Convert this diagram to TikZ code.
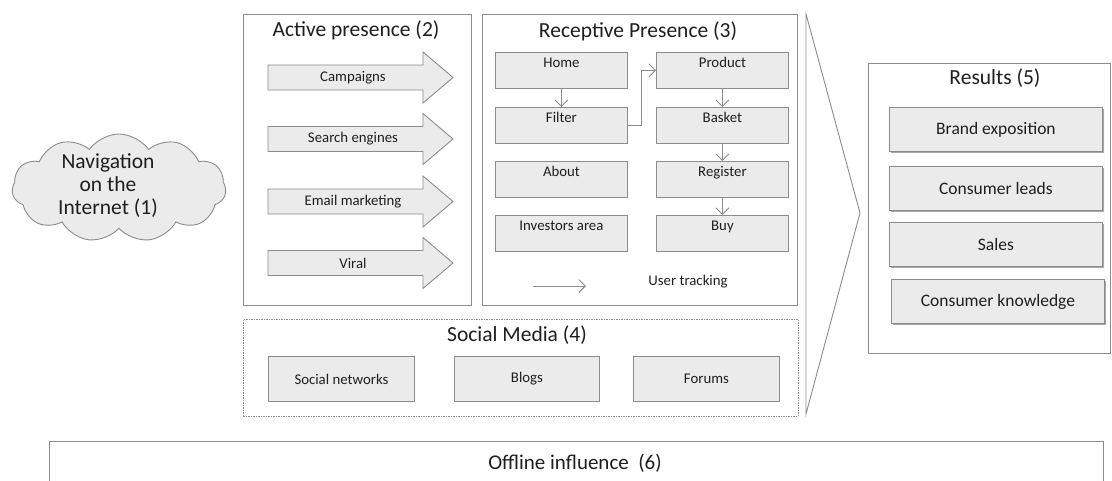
\documentclass[tikz,border=0pt]{standalone}
\usepackage{fontspec}
\setmainfont{Carlito}
\usetikzlibrary{shapes.symbols,arrows.meta,shadows}
\definecolor{boxfill}{HTML}{EBEBEB}
\definecolor{boxline}{HTML}{8C8C8C}
\definecolor{txt}{HTML}{1F1F1F}
\begin{document}
\begin{tikzpicture}[x=1pt,y=-1pt,
  every node/.style={text=txt},
  container/.style={draw=boxline, line width=0.9pt, inner sep=0pt, anchor=north west},
  dashbox/.style={draw=boxline, line width=0.8pt, dash pattern=on 1.5pt off 1pt, inner sep=0pt, anchor=north west},
  smalltext/.style={font=\fontsize{14.8}{17}\selectfont},
  titletext/.style={font=\fontsize{21.5}{25}\selectfont},
  pagebox/.style={draw=boxline, fill=boxfill, line width=0.9pt, anchor=north west,
    minimum width=132pt, minimum height=36pt, inner ysep=0pt, text height=15pt, text depth=21pt,
    font=\fontsize{14.8}{17}\selectfont},
  resbox/.style={draw=boxline, fill=boxfill, line width=0.9pt, anchor=north west,
    minimum width=213pt, minimum height=44pt, inner sep=0pt,
    font=\fontsize{17.5}{20}\selectfont,
    drop shadow={shadow xshift=1.5pt, shadow yshift=-1.5pt, fill=black!35, opacity=1}},
  socbox/.style={draw=boxline, fill=boxfill, line width=0.9pt, anchor=north west,
    minimum height=45pt, inner sep=0pt, font=\fontsize{14.8}{17}\selectfont},
  actarrow/.style={draw=boxline, fill=boxfill, line width=0.9pt},
  flow/.style={draw=boxline, line width=0.9pt, -{Straight Barb[length=6.5pt,width=13pt]}}
]
\useasboundingbox (0,0) rectangle (1112,480);
\fill[white] (0,0) rectangle (1112,480);

% Cloud
\node[cloud, cloud puffs=11, cloud puff arc=110, aspect=1.9, draw=boxline, fill=boxfill,
  line width=0.9pt, minimum width=214pt, minimum height=108pt, inner sep=0pt] (nav) at (119,188) {};
\node[align=center, font=\fontsize{21.5}{23}\selectfont] (navtext) at (108,186)
  {Navigation\\on the\\Internet (1)};

% Active presence
\node[container, minimum width=228pt, minimum height=291pt] (active) at (243,14) {};
\node[titletext] (activetitle) at (356,30) {Active presence (2)};
\foreach \y/\t/\n in {77.5/Campaigns/camp, 139/Search engines/search, 201.5/Email marketing/email, 263/Viral/viral}{
  \draw[actarrow] (268,\y-12.5) -- (423,\y-12.5) -- (423,\y-25.5) -- (453,\y)
     -- (423,\y+25.5) -- (423,\y+12.5) -- (268,\y+12.5) -- cycle;
  \node[smalltext] (\n) at (353,\y) {\t};
}

% Receptive presence
\node[container, minimum width=315pt, minimum height=291pt] (receptive) at (482,14) {};
\node[titletext] (receptivetitle) at (638,31) {Receptive Presence (3)};
\node[pagebox] (home) at (495,52) {Home};
\node[pagebox] (filter) at (495,107) {Filter};
\node[pagebox] (about) at (495,161) {About};
\node[pagebox] (investors) at (495,215) {Investors area};
\node[pagebox] (product) at (656,52) {Product};
\node[pagebox] (basket) at (656,107) {Basket};
\node[pagebox] (register) at (656,161) {Register};
\node[pagebox] (buy) at (656,215) {Buy};
\draw[flow] (home) -- (filter);
\draw[flow] (filter.east) -- ++(14,0) |- (product.west);
\draw[flow] (product) -- (basket);
\draw[flow] (basket) -- (register);
\draw[flow] (register) -- (buy);
\coordinate (ut1) at (533,286);
\coordinate (ut2) at (586,286);
\draw[flow] (ut1) -- (ut2);
\node[smalltext] (usertracking) at (688,282) {User tracking};

% Social media
\node[dashbox, minimum width=555pt, minimum height=97pt] (social) at (243,319) {};
\node[titletext] (socialtitle) at (517,335) {Social Media (4)};
\node[socbox, minimum width=146pt] (networks) at (268,356) {Social networks};
\node[socbox, minimum width=145pt] (blogs) at (454,356) {Blogs};
\node[socbox, minimum width=146pt] (forums) at (633,356) {Forums};

% Chevron
\draw[draw=boxline, line width=0.9pt, line join=miter] (806,14) -- (860,213) -- (806,414) -- cycle;

% Results
\node[container, minimum width=242pt, minimum height=290pt] (results) at (868,63) {};
\node[titletext] (resultstitle) at (995,78) {Results (5)};
\node[resbox] (brand) at (889,107) {Brand exposition};
\node[resbox] (leads) at (889,166) {Consumer leads};
\node[resbox] (sales) at (889,222) {Sales};
\node[resbox] (knowledge) at (891,279) {Consumer knowledge};

% Offline influence
\node[container, minimum width=1054pt, minimum height=50pt] (offline) at (49,441) {};
\node[font=\fontsize{21}{24}\selectfont] (offlinetext) at (575,463) {Offline influence\ \ (6)};
\end{tikzpicture}
\end{document}
